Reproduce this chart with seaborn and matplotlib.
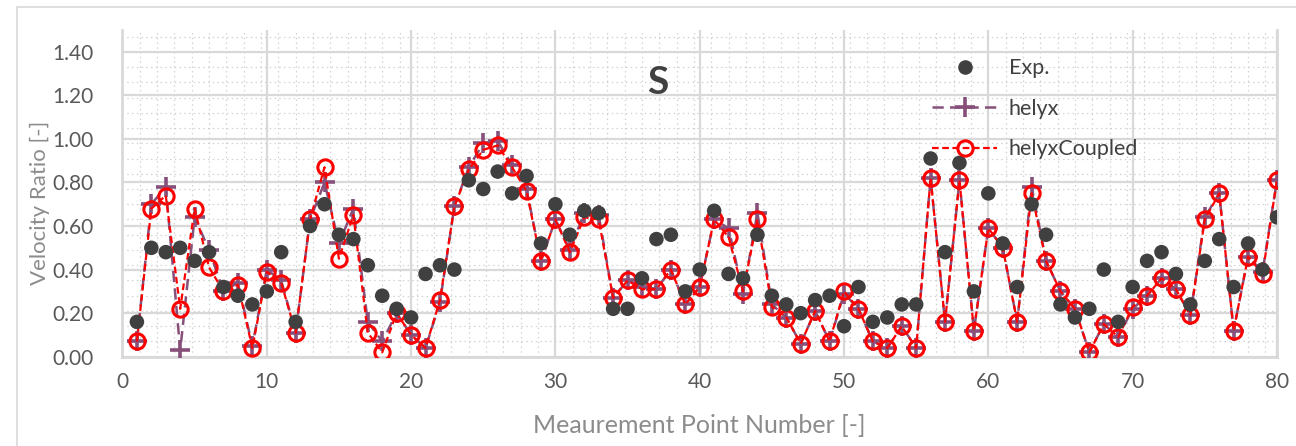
import numpy as np
import pandas as pd
import matplotlib
matplotlib.use("Agg")
import matplotlib.pyplot as plt
from matplotlib.lines import Line2D
from matplotlib.patches import Rectangle
from matplotlib.ticker import MultipleLocator
import seaborn as sns

# Measurement points 1..80
points = list(range(1, 81))

exp_values = [0.16, 0.50, 0.48, 0.50, 0.44, 0.48, 0.32, 0.28, 0.24, 0.30,
              0.48, 0.16, 0.60, 0.70, 0.56, 0.54, 0.42, 0.28, 0.22, 0.18,
              0.38, 0.42, 0.40, 0.81, 0.77, 0.85, 0.75, 0.83, 0.52, 0.70,
              0.56, 0.67, 0.66, 0.22, 0.22, 0.36, 0.54, 0.56, 0.30, 0.40,
              0.67, 0.38, 0.36, 0.56, 0.28, 0.24, 0.20, 0.26, 0.28, 0.14,
              0.32, 0.16, 0.18, 0.24, 0.24, 0.91, 0.48, 0.89, 0.30, 0.75,
              0.52, 0.32, 0.70, 0.56, 0.24, 0.18, 0.22, 0.40, 0.16, 0.32,
              0.44, 0.48, 0.38, 0.24, 0.44, 0.54, 0.32, 0.52, 0.40, 0.64]

helyx_values = [0.07, 0.70, 0.78, 0.03, 0.64, 0.49, 0.30, 0.34, 0.05, 0.40,
                0.35, 0.11, 0.63, 0.80, 0.52, 0.68, 0.16, 0.07, 0.20, 0.10,
                0.04, 0.25, 0.69, 0.87, 0.98, 0.99, 0.88, 0.77, 0.44, 0.63,
                0.49, 0.66, 0.65, 0.27, 0.35, 0.32, 0.31, 0.40, 0.24, 0.32,
                0.63, 0.59, 0.29, 0.66, 0.24, 0.18, 0.06, 0.21, 0.07, 0.29,
                0.22, 0.07, 0.04, 0.14, 0.04, 0.82, 0.16, 0.81, 0.12, 0.59,
                0.50, 0.16, 0.78, 0.44, 0.30, 0.22, 0.02, 0.15, 0.09, 0.22,
                0.28, 0.36, 0.31, 0.19, 0.64, 0.75, 0.12, 0.46, 0.39, 0.81]

coupled_values = [0.07, 0.68, 0.74, 0.22, 0.68, 0.41, 0.30, 0.33, 0.04, 0.39,
                  0.34, 0.11, 0.63, 0.87, 0.45, 0.65, 0.11, 0.02, 0.20, 0.10,
                  0.04, 0.26, 0.69, 0.86, 0.95, 0.97, 0.87, 0.76, 0.44, 0.63,
                  0.48, 0.64, 0.63, 0.27, 0.35, 0.31, 0.31, 0.40, 0.24, 0.32,
                  0.63, 0.55, 0.30, 0.63, 0.23, 0.18, 0.06, 0.21, 0.07, 0.30,
                  0.22, 0.07, 0.04, 0.14, 0.04, 0.82, 0.16, 0.81, 0.12, 0.59,
                  0.50, 0.16, 0.75, 0.44, 0.30, 0.22, 0.02, 0.15, 0.09, 0.23,
                  0.28, 0.36, 0.31, 0.19, 0.63, 0.75, 0.12, 0.46, 0.38, 0.81]

series_labels = ["Exp.", "helyx", "helyxCoupled"]
x_ticks = [0, 10, 20, 30, 40, 50, 60, 70, 80]
y_ticks = [0.0, 0.2, 0.4, 0.6, 0.8, 1.0, 1.2, 1.4]

df = pd.DataFrame({"point": points, "exp": exp_values,
                   "helyx": helyx_values, "coupled": coupled_values})

sns.set_theme(style="white")
plt.rcParams["font.family"] = ["Lato", "DejaVu Sans"]

EXP_C = "#404040"
HELYX_C = "#86507A"
COUPLED_C = "#FF0000"
GRID_C = "#D9D9D9"

fig = plt.figure(figsize=(12.96, 4.46), dpi=100)
ax = fig.add_axes([0.0945, 0.2002, 0.8908, 0.7325])

# outer chart border
fig.patches.append(Rectangle((0.0131, -0.05), 1.2, 0.9843 + 0.05,
                             transform=fig.transFigure, fill=False,
                             edgecolor=GRID_C, linewidth=1.2, zorder=0))

sns.lineplot(data=df, x="point", y="helyx", ax=ax, color=HELYX_C,
             linestyle=(0, (4.5, 2.5)), linewidth=1.8, marker="+",
             markersize=15, markeredgewidth=2.6, markeredgecolor=HELYX_C,
             label=series_labels[1], legend=False, zorder=3)
sns.lineplot(data=df, x="point", y="coupled", ax=ax, color=COUPLED_C,
             linestyle=(0, (3, 1.6)), linewidth=1.6, marker="o",
             markersize=11, markeredgewidth=2.2, markerfacecolor="none",
             markeredgecolor=COUPLED_C, label=series_labels[2],
             legend=False, zorder=4)
sns.scatterplot(data=df, x="point", y="exp", ax=ax, color=EXP_C, s=110,
                edgecolor="none", label=series_labels[0], legend=False,
                zorder=5)

ax.set_xlim(0, 80)
ax.set_ylim(0, 1.5)
ax.set_xticks(x_ticks)
ax.set_yticks(y_ticks)
ax.set_yticklabels([f"{v:.2f}" for v in y_ticks])
ax.xaxis.set_minor_locator(MultipleLocator(1.2))
ax.yaxis.set_minor_locator(MultipleLocator(0.07))

ax.grid(which="major", color=GRID_C, linewidth=1.6, linestyle="-")
ax.grid(which="minor", color="#D2D2D2", linewidth=0.9,
        linestyle=(0, (1.2, 2.6)))
ax.set_axisbelow(True)

for side in ["left", "bottom", "right"]:
    ax.spines[side].set_color(GRID_C)
    ax.spines[side].set_linewidth(2)
ax.spines["top"].set_visible(False)

ax.tick_params(axis="both", which="both", length=0, colors="#595959",
               labelsize=15)
ax.tick_params(axis="y", pad=21)
ax.tick_params(axis="x", pad=11)

ax.set_xlabel("Meaurement Point Number [-]", fontsize=18, color="#8C8C8C",
              labelpad=16)
ax.set_ylabel("Velocity Ratio [-]", fontsize=16, color="#8C8C8C")
ax.yaxis.set_label_coords(-0.063, 0.47)

ax.text(0.464, 0.84, "S", transform=ax.transAxes, fontsize=28,
        fontweight="bold", color=EXP_C, ha="center", va="center")

handles = [
    Line2D([], [], linestyle="none", marker="o", markersize=10.5,
           color=EXP_C, markeredgecolor="none"),
    Line2D([], [], color=HELYX_C, linestyle=(0, (4.5, 2.5)), linewidth=1.8,
           marker="+", markersize=15, markeredgewidth=2.6),
    Line2D([], [], color=COUPLED_C, linestyle=(0, (3, 1.6)), linewidth=1.6,
           marker="o", markersize=11, markeredgewidth=2.2,
           markerfacecolor="none"),
]
leg = ax.legend(handles, series_labels, loc="upper left",
                bbox_to_anchor=(0.694, 0.94), frameon=False, fontsize=15.5,
                handlelength=3.0, handletextpad=0.55, labelspacing=0.95,
                borderaxespad=0)
for t in leg.get_texts():
    t.set_color(EXP_C)

fig.savefig("out.png", dpi=100, facecolor="white")
